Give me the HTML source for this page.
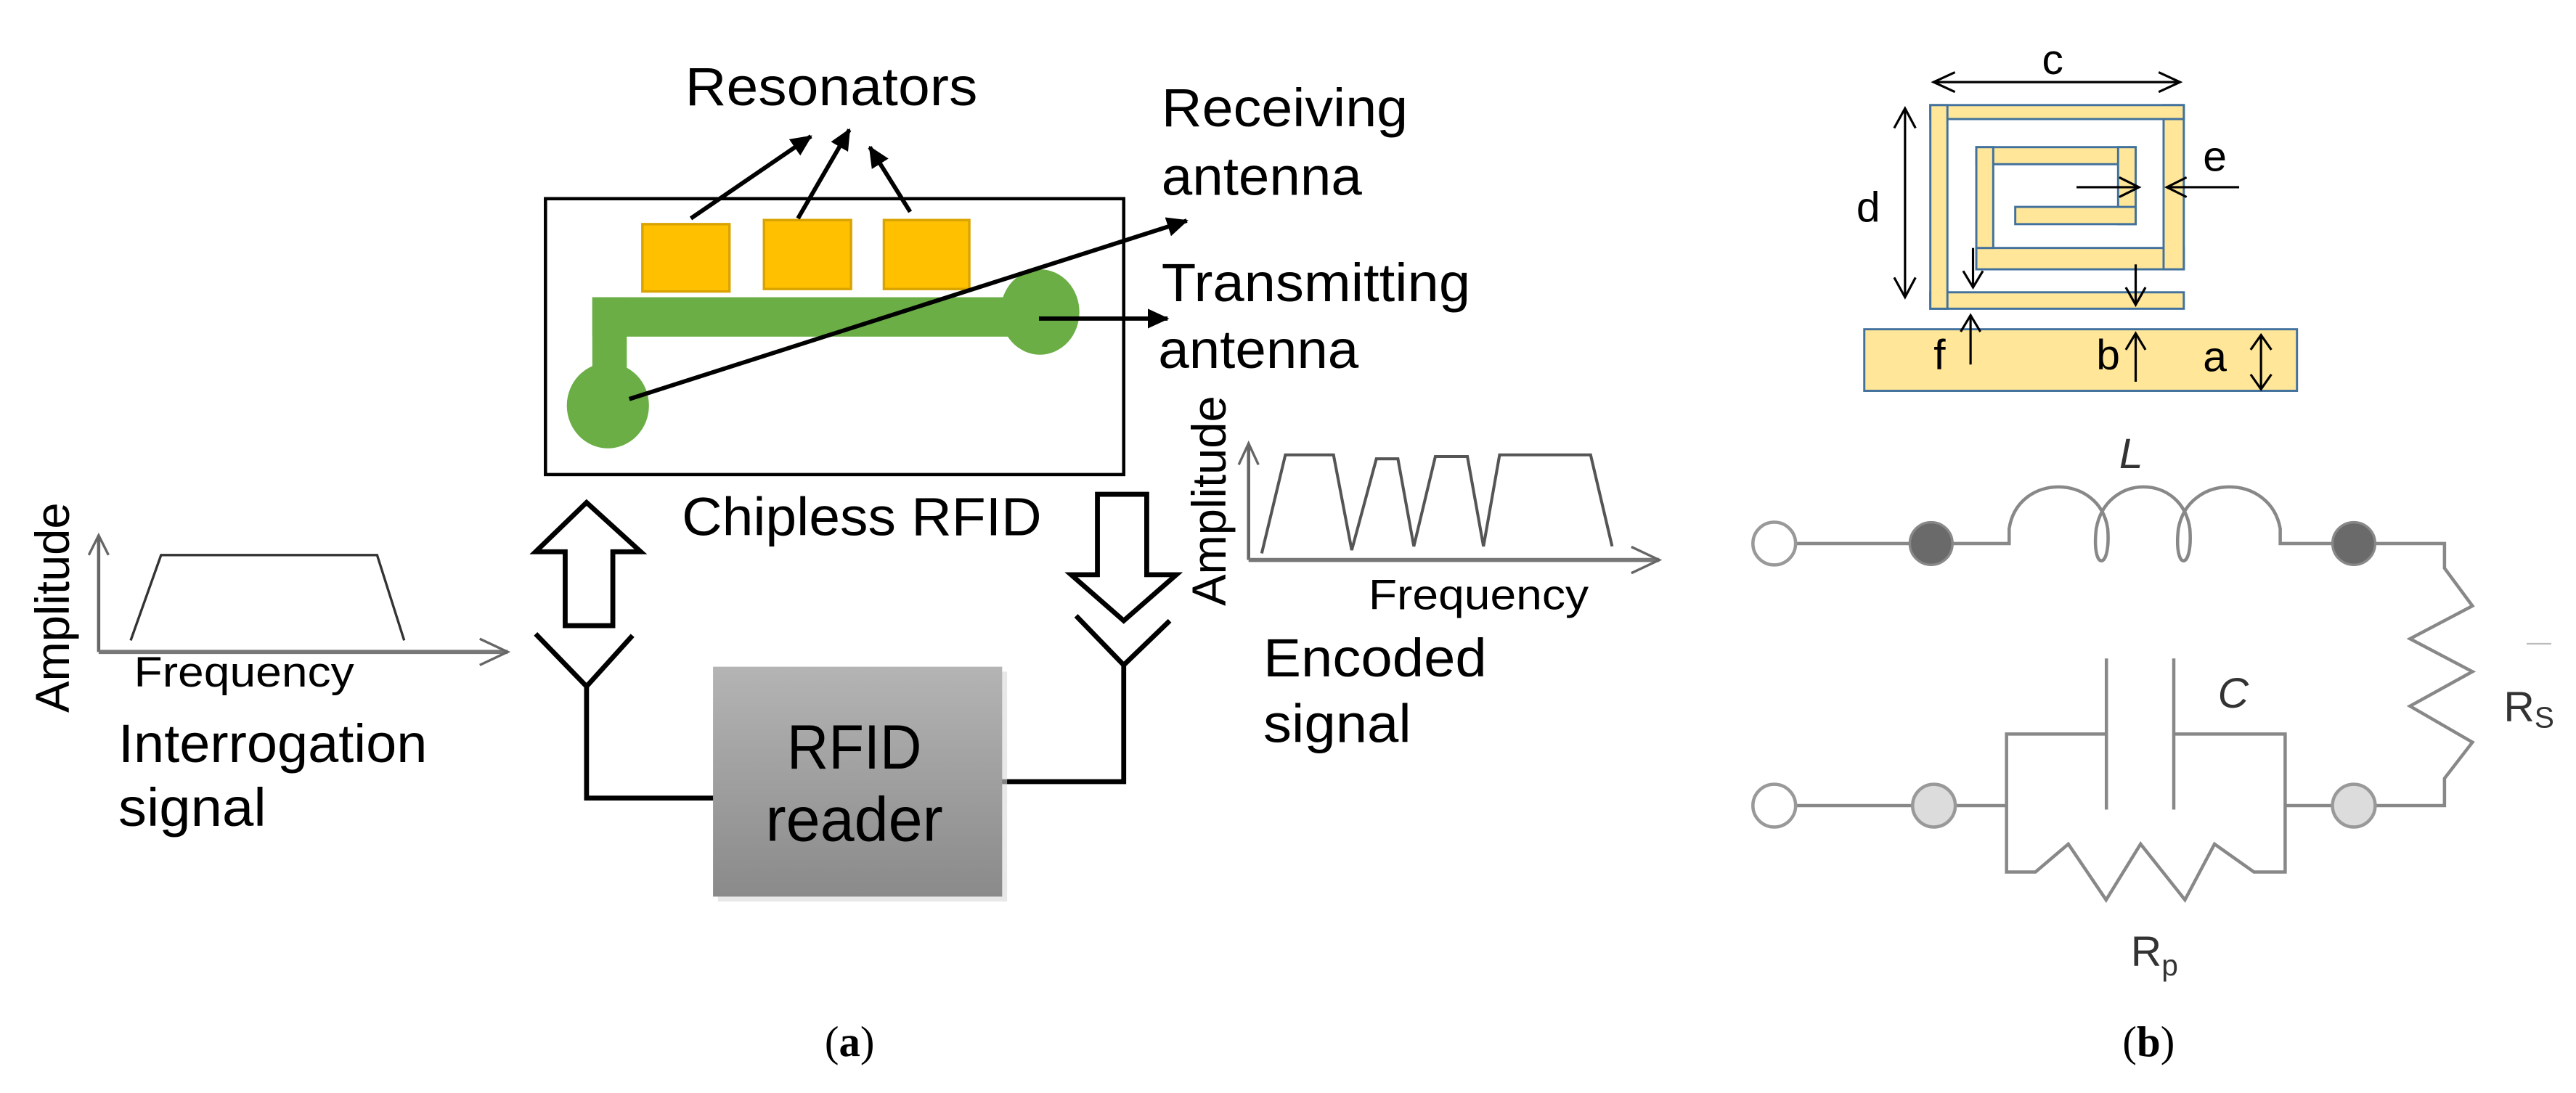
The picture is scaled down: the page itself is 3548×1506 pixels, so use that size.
<!DOCTYPE html>
<html><head><meta charset="utf-8"><style>
html,body{margin:0;padding:0;background:#fff;}
svg{display:block;}
text{font-family:"Liberation Sans",Arial,sans-serif;}
</style></head><body>
<svg width="3548" height="1506" viewBox="0 0 1568 665.6" xmlns="http://www.w3.org/2000/svg">
<defs>
<marker id="ah" markerWidth="13" markerHeight="12" refX="12" refY="6" orient="auto" markerUnits="userSpaceOnUse">
<path d="M0,0 L13,6 L0,12 z" fill="#000"/></marker>
<linearGradient id="gr" x1="0" y1="0" x2="0" y2="1"><stop offset="0" stop-color="#b4b4b4"/><stop offset="1" stop-color="#8a8a8a"/></linearGradient>
</defs>
<rect width="1568" height="666" fill="#fff"/>

<text x="417" y="64" font-size="33" textLength="178" lengthAdjust="spacingAndGlyphs">Resonators</text>
<text x="707" y="77" font-size="33" textLength="150" lengthAdjust="spacingAndGlyphs">Receiving</text>
<text x="707" y="118.6" font-size="33" textLength="122" lengthAdjust="spacingAndGlyphs">antenna</text>
<text x="707" y="183.5" font-size="33" textLength="188" lengthAdjust="spacingAndGlyphs">Transmitting</text>
<text x="705" y="224" font-size="33" textLength="122" lengthAdjust="spacingAndGlyphs">antenna</text>

<rect x="332" y="121" width="352" height="168" fill="#fff" stroke="#000" stroke-width="2"/>
<rect x="391" y="136.5" width="53" height="41" fill="#FFC000" stroke="#D9A300" stroke-width="1.5"/>
<rect x="465" y="134" width="53" height="42" fill="#FFC000" stroke="#D9A300" stroke-width="1.5"/>
<rect x="538" y="134" width="52" height="42" fill="#FFC000" stroke="#D9A300" stroke-width="1.5"/>
<rect x="360.5" y="181" width="280" height="24" fill="#6AAE45"/>
<rect x="360.5" y="181" width="21" height="55" fill="#6AAE45"/>
<ellipse cx="370" cy="247" rx="25" ry="26" fill="#6AAE45"/>
<ellipse cx="633" cy="190" rx="24" ry="26" fill="#6AAE45"/>

<line x1="420.5" y1="133" x2="493.6" y2="83" stroke="#000" stroke-width="2.6" marker-end="url(#ah)"/>
<line x1="485.7" y1="133" x2="517" y2="79" stroke="#000" stroke-width="2.6" marker-end="url(#ah)"/>
<line x1="554" y1="129" x2="529.4" y2="89.6" stroke="#000" stroke-width="2.6" marker-end="url(#ah)"/>
<line x1="383" y1="243" x2="722.4" y2="134.4" stroke="#000" stroke-width="2.6" marker-end="url(#ah)"/>
<line x1="632.4" y1="194" x2="710.7" y2="194" stroke="#000" stroke-width="2.6" marker-end="url(#ah)"/>

<text x="415" y="326" font-size="33" textLength="219" lengthAdjust="spacingAndGlyphs">Chipless RFID</text>

<path d="M357,306 L390,336 L373,336 L373,381 L344,381 L344,336 L326,336 Z" fill="#fff" stroke="#000" stroke-width="3"/>
<path d="M668,301 L698,301 L698,350 L716,350 L684,378 L652,350 L668,350 Z" fill="#fff" stroke="#000" stroke-width="3"/>

<polyline points="326,386 357,418 385,387" fill="none" stroke="#000" stroke-width="3"/>
<polyline points="357,418 357,486 436,486" fill="none" stroke="#000" stroke-width="3"/>
<polyline points="655,375 684,405 712,378" fill="none" stroke="#000" stroke-width="3"/>
<polyline points="684,405 684,476 608,476" fill="none" stroke="#000" stroke-width="3"/>

<rect x="437" y="409" width="176" height="140" fill="#d8d8d8" opacity="0.6"/>
<rect x="434" y="406" width="176" height="140" fill="url(#gr)"/>
<text x="479" y="468" font-size="38" textLength="82" lengthAdjust="spacingAndGlyphs">RFID</text>
<text x="466" y="512" font-size="38" textLength="108" lengthAdjust="spacingAndGlyphs">reader</text>

<line x1="60" y1="397" x2="60" y2="327" stroke="#666" stroke-width="2"/>
<polyline points="54,338 60,326 66,338" fill="none" stroke="#666" stroke-width="1.5"/>
<line x1="60" y1="397" x2="309" y2="397" stroke="#777" stroke-width="2.5"/>
<polyline points="292,389 309,397 292,405" fill="none" stroke="#666" stroke-width="1.5"/>
<polyline points="79.5,390 98,338 229.5,338 246,390" fill="none" stroke="#333" stroke-width="1.5"/>
<text transform="translate(42,434) rotate(-90)" font-size="29" textLength="128" lengthAdjust="spacingAndGlyphs">Amplitude</text>
<text x="81.5" y="418" font-size="26" textLength="134" lengthAdjust="spacingAndGlyphs">Frequency</text>
<text x="72" y="464" font-size="33" textLength="188" lengthAdjust="spacingAndGlyphs">Interrogation</text>
<text x="72" y="503" font-size="33" textLength="90" lengthAdjust="spacingAndGlyphs">signal</text>

<line x1="760" y1="341" x2="760" y2="271" stroke="#666" stroke-width="2"/>
<polyline points="754,283 760,270 766,283" fill="none" stroke="#666" stroke-width="1.5"/>
<line x1="760" y1="341" x2="1010" y2="341" stroke="#777" stroke-width="2.5"/>
<polyline points="993,333 1010,341 993,349" fill="none" stroke="#666" stroke-width="1.5"/>
<polyline points="768,337 782.4,277 811.7,277 822.8,335 837.8,279.4 850.9,279.4 860.6,332.7 873.7,278 893.2,278 903,332.7 912.8,277 968.2,277 981.3,332.7" fill="none" stroke="#555" stroke-width="1.8"/>
<text transform="translate(746,369) rotate(-90)" font-size="29" textLength="128" lengthAdjust="spacingAndGlyphs">Amplitude</text>
<text x="833" y="371" font-size="26" textLength="134" lengthAdjust="spacingAndGlyphs">Frequency</text>
<text x="769" y="412" font-size="33" textLength="136" lengthAdjust="spacingAndGlyphs">Encoded</text>
<text x="769" y="452" font-size="33" textLength="90" lengthAdjust="spacingAndGlyphs">signal</text>

<text x="502" y="643" font-size="26" style="font-family:'Liberation Serif',serif">(<tspan font-weight="bold">a</tspan>)</text>

<g fill="#FFE699" stroke="#41719C" stroke-width="1.3">
<rect x="1134.8" y="200.5" width="263.4" height="37.5"/>
<rect x="1175" y="178" width="154.3" height="10"/>
<rect x="1203" y="151" width="126.3" height="13"/>
<rect x="1317" y="64" width="12.3" height="100"/>
<rect x="1175" y="64" width="154.3" height="8.5"/>
<rect x="1175" y="64" width="10.4" height="124"/>
<rect x="1203" y="89.6" width="97" height="10.4"/>
<rect x="1203" y="89.6" width="10.3" height="61.4"/>
<rect x="1289.3" y="89.6" width="10.7" height="46.9"/>
<rect x="1226.7" y="126" width="73.3" height="10.5"/>
</g>
<g stroke="#000" stroke-width="1.4" fill="none">
<line x1="1177" y1="50" x2="1327" y2="50"/>
<polyline points="1190,44 1177,50 1190,56"/><polyline points="1314,44 1327,50 1314,56"/>
<line x1="1159.6" y1="66" x2="1159.6" y2="181"/>
<polyline points="1153,78 1159.6,66 1166,78"/><polyline points="1153,169 1159.6,181 1166,169"/>
<line x1="1264" y1="114" x2="1302" y2="114"/><polyline points="1290,108 1302,114 1290,120"/>
<line x1="1363" y1="114" x2="1319" y2="114"/><polyline points="1331,108 1319,114 1331,120"/>
<line x1="1201" y1="151" x2="1201" y2="175"/><polyline points="1195,165 1201,175 1207,165"/>
<line x1="1300" y1="161" x2="1300" y2="185.6"/><polyline points="1294,175 1300,185.6 1306,175"/>
<line x1="1199.5" y1="222" x2="1199.5" y2="192"/><polyline points="1193.5,202 1199.5,192 1205.5,202"/>
<line x1="1300" y1="232.5" x2="1300" y2="203"/><polyline points="1294,213 1300,203 1306,213"/>
<line x1="1376.3" y1="204" x2="1376.3" y2="237"/><polyline points="1370,213 1376.3,204 1382.6,213"/><polyline points="1370,228 1376.3,237 1382.6,228"/>
</g>
<g font-size="26" fill="#000">
<text x="1243" y="45">c</text>
<text x="1130" y="135">d</text>
<text x="1341" y="104">e</text>
<text x="1177" y="225">f</text>
<text x="1276" y="225">b</text>
<text x="1341" y="226">a</text>
</g>

<g stroke="#888" stroke-width="2" fill="none">
<line x1="1093" y1="331" x2="1164" y2="331"/>
<path d="M1187,331 L1223,331 L1223,322 C1228,288 1278,288 1283,322 C1285,348 1273,348 1276,322 C1282,288 1328,288 1333,322 C1335,348 1323,348 1326,322 C1332,288 1382,288 1388,322 L1388,331 L1421,331"/>
<polyline points="1444,331 1488,331 1488,346 1505,369 1467,389 1505,409 1467,430 1505,452 1488,474 1488,490.6 1445,490.6"/>
<line x1="1093" y1="490.6" x2="1164" y2="490.6"/>
<line x1="1190" y1="490.6" x2="1221.4" y2="490.6"/>
<polyline points="1282.2,447 1221.4,447 1221.4,531 1239,531 1259,514 1282,548 1303,514 1330,548 1348,514 1372,531 1391,531 1391,447 1323.2,447"/>
<line x1="1282.2" y1="401" x2="1282.2" y2="493"/>
<line x1="1323.2" y1="401" x2="1323.2" y2="493"/>
<line x1="1391" y1="490.6" x2="1420" y2="490.6"/>
</g>
<ellipse cx="1080" cy="331" rx="13" ry="13" fill="#fff" stroke="#999" stroke-width="2"/>
<ellipse cx="1175.5" cy="331" rx="13" ry="13" fill="#6a6a6a" stroke="#888" stroke-width="1.5"/>
<ellipse cx="1432.8" cy="331" rx="13" ry="13" fill="#6a6a6a" stroke="#888" stroke-width="1.5"/>
<ellipse cx="1080" cy="490.6" rx="13" ry="13" fill="#fff" stroke="#999" stroke-width="2"/>
<ellipse cx="1177.2" cy="490.6" rx="13" ry="13" fill="#dcdcdc" stroke="#999" stroke-width="2"/>
<ellipse cx="1432.8" cy="490.6" rx="13" ry="13" fill="#dcdcdc" stroke="#999" stroke-width="2"/>
<line x1="1538" y1="392" x2="1553" y2="392" stroke="#bbb" stroke-width="1"/>
<g font-size="26" fill="#333">
<text x="1290" y="285" font-style="italic">L</text>
<text x="1350" y="431" font-style="italic">C</text>
<text x="1524" y="439">R<tspan font-size="18" dy="4">S</tspan></text>
<text x="1297" y="588">R<tspan font-size="18" dy="6">p</tspan></text>
</g>
<text x="1292" y="643" font-size="26" style="font-family:'Liberation Serif',serif">(<tspan font-weight="bold">b</tspan>)</text>
</svg>
</body></html>
